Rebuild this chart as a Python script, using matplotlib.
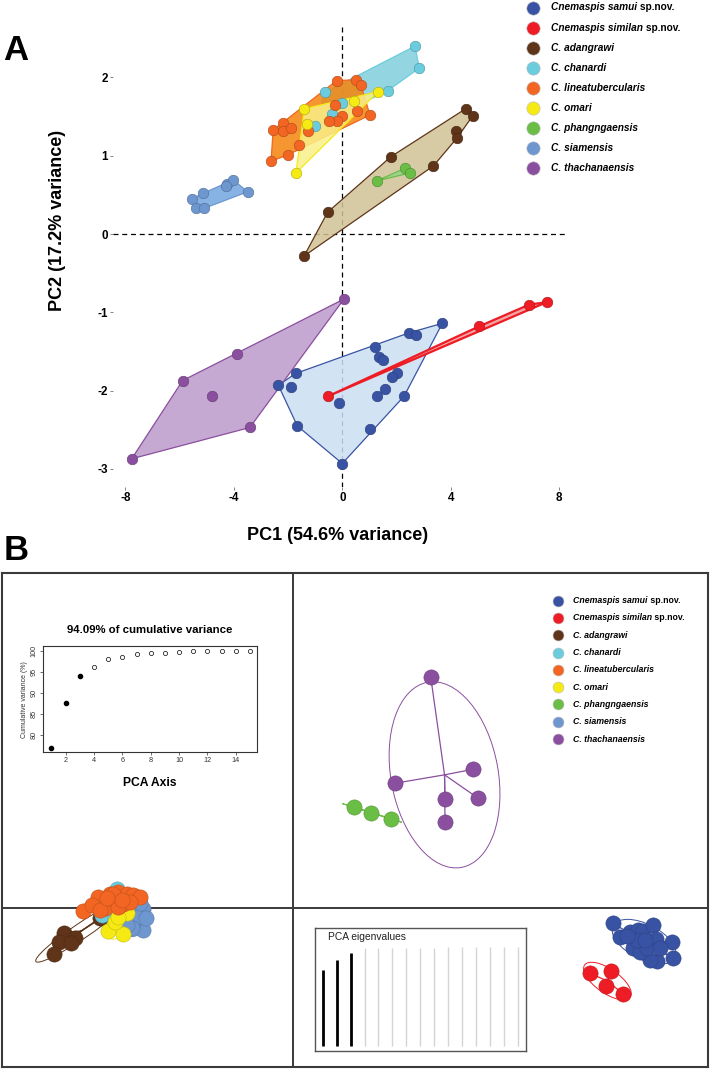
import numpy as np
import matplotlib
matplotlib.use("Agg")
import matplotlib.pyplot as plt
from matplotlib.patches import Polygon, Ellipse
from matplotlib.colors import to_rgb

plt.rcParams['font.family'] = ['Liberation Sans', 'DejaVu Sans']

# ---------------- data ----------------
species_names = ["Cnemaspis samui", "Cnemaspis similan", "C. adangrawi", "C. chanardi",
                 "C. lineatubercularis", "C. omari", "C. phangngaensis", "C. siamensis",
                 "C. thachanaensis"]
name_suffix = [" sp.nov.", " sp.nov.", "", "", "", "", "", "", ""]
point_colors = ["#3953A4", "#EE1C25", "#5F3418", "#6ACCDD", "#F26522", "#F5EA14",
                "#6ABD45", "#6E97D0", "#8A4F9E"]
hull_fills = ["#CBE0F3", "#F19393", "#D1C295", "#82CEDD", "#F5840C", "#FAF088",
              "#99D18F", "#71A6DE", "#BC9ACA"]

# Panel A: PCA scores (PC1, PC2)
samui_pc1 = [3.69, 2.47, 2.72, 1.21, 1.37, 1.51, -1.72, 2.03, 1.82, -2.36, -1.90, 1.58, 1.27, 2.28, -0.11, -1.66, 1.02, 0.00]
samui_pc2 = [-1.14, -1.26, -1.29, -1.44, -1.57, -1.61, -1.78, -1.78, -1.82, -1.93, -1.95, -1.98, -2.07, -2.07, -2.16, -2.45, -2.49, -2.93]
similan_pc1 = [-0.52, 5.04, 6.90, 7.54]
similan_pc2 = [-2.07, -1.18, -0.90, -0.87]
adangrawi_pc1 = [4.55, 4.81, 4.18, 4.24, 1.80, 3.36, -0.54, -1.41]
adangrawi_pc2 = [1.60, 1.51, 1.32, 1.23, 0.99, 0.87, 0.28, -0.28]
chanardi_pc1 = [2.68, 2.84, 1.67, -0.64, 0.00, -0.39, -1.01]
chanardi_pc2 = [2.40, 2.12, 1.83, 1.81, 1.68, 1.53, 1.38]
lineatub_pc1 = [-0.21, 0.49, 0.69, -0.27, 0.53, 0.00, -0.21, -0.48, 1.02, -2.20, -2.55, -2.20, -1.89, -1.25, -1.59, -2.02, -2.63]
lineatub_pc2 = [1.96, 1.97, 1.90, 1.65, 1.57, 1.51, 1.44, 1.44, 1.52, 1.42, 1.33, 1.31, 1.35, 1.32, 1.14, 1.01, 0.93]
omari_pc1 = [-1.40, 1.33, 0.43, -1.29, -1.71]
omari_pc2 = [1.60, 1.82, 1.70, 1.41, 0.78]
phang_pc1 = [1.27, 2.31, 2.50]
phang_pc2 = [0.68, 0.84, 0.78]
siam_pc1 = [-5.53, -5.15, -5.40, -5.09, -4.24, -4.02, -4.29, -3.49]
siam_pc2 = [0.45, 0.52, 0.33, 0.33, 0.64, 0.69, 0.61, 0.54]
thach_pc1 = [0.06, -3.87, -5.89, -4.82, -3.41, -7.77]
thach_pc2 = [-0.83, -1.53, -1.87, -2.07, -2.47, -2.87]

# Panel B: DAPC scores (LD1, LD2)
samui_ld1 = [12.80, 13.09, 13.49, 13.82, 14.02, 14.42, 14.53, 15.18, 15.22, 14.56, 14.29, 13.62, 13.89, 14.16, 14.69, 13.76, 14.09, 13.36]
samui_ld2 = [-0.62, -1.18, -0.96, -0.89, -0.92, -0.69, -1.25, -1.36, -2.02, -2.12, -2.09, -1.62, -1.76, -1.62, -1.62, -1.29, -1.29, -1.13]
similan_ld1 = [11.89, 12.72, 12.52, 13.22]
similan_ld2 = [-2.62, -2.53, -3.13, -3.45]
adangrawi_ld1 = [-9.15, -9.34, -8.71, -8.87, -9.54, -7.71, -7.31, -6.99]
adangrawi_ld2 = [-1.00, -1.36, -1.22, -1.42, -1.85, -0.41, -0.17, 0.03]
chanardi_ld1 = [-7.64, -7.11, -6.58, -7.04, -7.31, -6.78, -6.38]
chanardi_ld2 = [-0.29, -0.36, -0.06, 0.74, 0.04, 0.31, 0.11]
lineatub_ld1 = [-8.38, -7.78, -7.31, -6.98, -6.64, -6.38, -6.11, -7.51, -6.78, -7.11, -8.04, -6.98, -6.51, -7.18, -7.71, -7.45, -6.85]
lineatub_ld2 = [-0.12, 0.44, 0.55, 0.64, 0.55, 0.51, 0.42, -0.02, 0.15, 0.31, 0.11, 0.04, 0.24, 0.54, -0.09, 0.40, 0.30]
omari_ld1 = [-7.38, -6.78, -7.11, -6.64, -6.98]
omari_ld2 = [-0.92, -1.05, -0.56, -0.22, -0.36]
phang_ld1 = [2.46, 3.13, 3.92]
phang_ld2 = [4.02, 3.80, 3.56]
siam_ld1 = [-5.98, -6.00, -6.38, -6.24, -6.44, -6.11, -6.64, -5.87]
siam_ld2 = [-0.06, -0.89, -0.62, -0.36, -0.82, 0.18, -0.69, -0.41]
thach_ld1 = [5.52, 4.09, 7.22, 7.42, 6.09, 6.09]
thach_ld2 = [9.22, 4.98, 5.54, 4.38, 4.36, 3.42]

# Cumulative variance inset and eigenvalue bars
pca_axis = [1, 2, 3, 4, 5, 6, 7, 8, 9, 10, 11, 12, 13, 14, 15]
cumulative_variance = [76.85, 87.5, 94.09, 96.1, 97.9, 98.6, 99.1, 99.35, 99.55, 99.7, 99.8, 99.85, 99.9, 99.95, 100.0]
n_retained = 3
eigen_bars = [77.0, 87.5, 94.0, 99.0, 99.5, 99.6, 99.7, 99.8, 99.8, 99.9, 99.9, 99.9, 100.0, 100.0, 100.0]

pcaA = [(samui_pc1, samui_pc2), (similan_pc1, similan_pc2), (adangrawi_pc1, adangrawi_pc2),
        (chanardi_pc1, chanardi_pc2), (lineatub_pc1, lineatub_pc2), (omari_pc1, omari_pc2),
        (phang_pc1, phang_pc2), (siam_pc1, siam_pc2), (thach_pc1, thach_pc2)]
dapcB = [(samui_ld1, samui_ld2), (similan_ld1, similan_ld2), (adangrawi_ld1, adangrawi_ld2),
         (chanardi_ld1, chanardi_ld2), (lineatub_ld1, lineatub_ld2), (omari_ld1, omari_ld2),
         (phang_ld1, phang_ld2), (siam_ld1, siam_ld2), (thach_ld1, thach_ld2)]

# ---------------- helpers ----------------
def convex_hull(xs, ys):
    pts = sorted(set(zip(xs, ys)))
    if len(pts) < 3:
        return pts
    def cross(o, a, b):
        return (a[0]-o[0])*(b[1]-o[1]) - (a[1]-o[1])*(b[0]-o[0])
    lower, upper = [], []
    for p in pts:
        while len(lower) >= 2 and cross(lower[-2], lower[-1], p) <= 0:
            lower.pop()
        lower.append(p)
    for p in reversed(pts):
        while len(upper) >= 2 and cross(upper[-2], upper[-1], p) <= 0:
            upper.pop()
        upper.append(p)
    return lower[:-1] + upper[:-1]

def darker(c, f=0.72):
    r, g, b = to_rgb(c)
    return (r*f, g*f, b*f)

W, H = 710, 1069
fig = plt.figure(figsize=(W/100, H/100), dpi=100)

def fbox(left, top, right, bottom):
    return [left/W, 1-bottom/H, (right-left)/W, (bottom-top)/H]

# ---------------- Panel A ----------------
axA = fig.add_axes(fbox(113, 25, 567, 487))
axA.set_xlim(-8.46, 8.29)
axA.set_ylim(-3.23, 2.67)
for s in axA.spines.values():
    s.set_visible(False)
axA.axhline(0, color='black', lw=0.9, ls=(0, (4, 3)), zorder=0.5)
axA.axvline(0, color='black', lw=0.9, ls=(0, (4, 3)), zorder=0.5)
for i, (xs, ys) in enumerate(pcaA):
    hull = convex_hull(xs, ys)
    fr, fg, fb = to_rgb(hull_fills[i])
    lw = 1.6 if i == 1 else 0.9
    axA.add_patch(Polygon(hull, closed=True, facecolor=(fr, fg, fb, 0.85),
                          edgecolor=point_colors[i], lw=lw, zorder=1 + i*0.01))
for i, (xs, ys) in enumerate(pcaA):
    axA.scatter(xs, ys, s=58, color=point_colors[i], edgecolor=darker(point_colors[i]),
                linewidth=0.4, zorder=3 + i*0.01)
axA.set_xticks([-8, -4, 0, 4, 8])
axA.set_yticks([-3, -2, -1, 0, 1, 2])
axA.set_xticklabels(['-8', '-4', '0', '4', '8'])
axA.set_yticklabels(['-3', '-2', '-1', '0', '1', '2'])
axA.tick_params(axis='both', length=2.2, width=0.5, color='#555555', pad=1.5,
                labelsize=8.4, labelcolor='black')
for lab in axA.get_xticklabels() + axA.get_yticklabels():
    lab.set_fontweight('bold')

# ---------------- Panel B ----------------
axB = fig.add_axes(fbox(2, 573, 708, 1067))
axB.set_xlim(-11.63, 16.61)
axB.set_ylim(-6.37, 13.39)
axB.set_xticks([])
axB.set_yticks([])
for s in axB.spines.values():
    s.set_color('#3a3a3a')
    s.set_linewidth(1.5)
axB.axhline(0, color='#3a3a3a', lw=1.4, zorder=0.5)
axB.axvline(0, color='#3a3a3a', lw=1.4, zorder=0.5)
for i, (xs, ys) in enumerate(dapcB):
    x = np.array(xs); y = np.array(ys)
    mx, my = x.mean(), y.mean()
    for xi, yi in zip(x, y):
        axB.plot([mx, xi], [my, yi], color=point_colors[i], lw=0.9, zorder=1)
    cov = np.cov(np.vstack([x, y]), bias=True)
    vals, vecs = np.linalg.eigh(cov)
    order = vals.argsort()[::-1]
    vals, vecs = vals[order], vecs[:, order]
    ang = np.degrees(np.arctan2(vecs[1, 0], vecs[0, 0]))
    w = 2 * 2 * np.sqrt(max(vals[0], 0))
    h = 2 * 2 * np.sqrt(max(vals[1], 1e-6))
    axB.add_patch(Ellipse((mx, my), w, h, angle=ang, facecolor='none',
                          edgecolor=point_colors[i], lw=0.7, zorder=1.2))
draw_order = [0, 1, 2, 3, 7, 5, 4, 6, 8]
for k, i in enumerate(draw_order):
    xs, ys = dapcB[i]
    axB.scatter(xs, ys, s=120, color=point_colors[i], edgecolor=darker(point_colors[i], 0.8),
                linewidth=0.4, zorder=3 + k*0.01)

# Cumulative variance inset
axC = fig.add_axes(fbox(42.7, 646, 256.7, 752.3))
axC.set_xlim(0.38, 15.48)
axC.set_ylim(75.9, 101.1)
ret_x = pca_axis[:n_retained]; ret_y = cumulative_variance[:n_retained]
rest_x = pca_axis[n_retained:]; rest_y = cumulative_variance[n_retained:]
axC.plot(ret_x, ret_y, 'o', ms=3.0, color='black', mec='black')
axC.plot(rest_x, rest_y, 'o', ms=3.0, mfc='white', mec='black', mew=0.5)
axC.set_xticks([2, 4, 6, 8, 10, 12, 14])
axC.set_yticks([80, 85, 90, 95, 100])
axC.tick_params(axis='both', length=2, width=0.5, pad=1.5, labelsize=5.2,
                labelcolor='#333333', color='#333333')
for lab in axC.get_yticklabels():
    lab.set_rotation(90)
    lab.set_va('center')
for s in axC.spines.values():
    s.set_linewidth(0.8)
    s.set_color('#333333')
axC.set_ylabel('Cumulative variance (%)', fontsize=5, color='#333333', labelpad=2)

# Eigenvalue inset
axE = fig.add_axes(fbox(315, 927.7, 525.7, 1050.7))
axE.set_xlim(0.447, 15.57)
axE.set_ylim(-4.76, 119.9)
axE.set_xticks([])
axE.set_yticks([])
for s in axE.spines.values():
    s.set_linewidth(1.0)
    s.set_color('#555555')
ex = np.array(pca_axis); eh = np.array(eigen_bars)
axE.vlines(ex[n_retained:], 0, eh[n_retained:], colors='#d4d4d4', lw=1.0)
axE.vlines(ex[:n_retained], 0, eh[:n_retained], colors='black', lw=2.0)

# ---------------- overlay (labels, legends) ----------------
ov = fig.add_axes([0, 0, 1, 1])
ov.set_xlim(0, W)
ov.set_ylim(H, 0)
ov.axis('off')
ov.set_zorder(10)

ov.text(16, 50, 'A', fontsize=25, fontweight='bold', ha='center', va='center')
ov.text(16, 551, 'B', fontsize=25, fontweight='bold', ha='center', va='center')
ov.text(338, 535, 'PC1 (54.6% variance)', fontsize=13, fontweight='bold', ha='center', va='center')
ov.text(57, 220, 'PC2 (17.2% variance)', fontsize=13, fontweight='bold', ha='center', va='center',
        rotation=90)
ov.text(150, 630, '94.09% of cumulative variance', fontsize=8.2, fontweight='bold',
        ha='center', va='center')
ov.text(150, 783, 'PCA Axis', fontsize=8.7, fontweight='bold', ha='center', va='center')
ov.text(328, 937.5, 'PCA eigenvalues', fontsize=7.4, ha='left', va='center', color='#222222')

def legend(x_marker, x_text, y0, dy, msize, fsize):
    for i, name in enumerate(species_names):
        y = y0 + i*dy
        ov.scatter([x_marker], [y], s=msize, color=point_colors[i], edgecolor='#bbbbbb',
                   linewidth=0.4, zorder=5)
        t1 = ov.text(x_text, y, name, fontsize=fsize, fontweight='bold', style='italic',
                     ha='left', va='center')
        if name_suffix[i]:
            ov.annotate(name_suffix[i], xy=(1, 0), xycoords=t1, fontsize=fsize,
                        fontweight='bold', ha='left', va='bottom')

legend(533.3, 550.7, 7.5, 20.1, 92, 7.3)
legend(558.3, 573.3, 600.7, 17.29, 62, 6.3)

fig.savefig('out.png', dpi=100)
